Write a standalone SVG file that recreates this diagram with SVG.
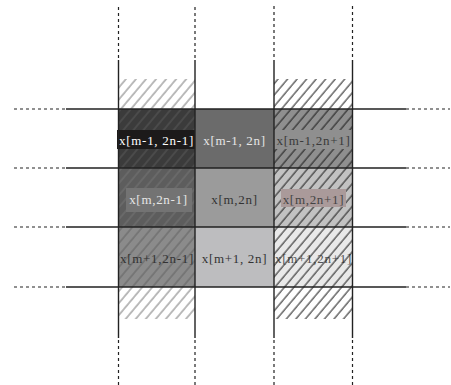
<svg xmlns="http://www.w3.org/2000/svg" width="451" height="385" viewBox="0 0 451 385">
<style>
.t{font-family:"Liberation Serif","Times New Roman",serif;font-size:13px;letter-spacing:0.7px;text-anchor:middle}
.sl{stroke:#222;stroke-width:1.4;fill:none}
.dl{stroke:#222;stroke-width:1.2;stroke-dasharray:3,3;fill:none}
</style>
<defs>
<pattern id="hA" width="7.7" height="10" patternUnits="userSpaceOnUse" patternTransform="rotate(40)"><line x1="1" y1="0" x2="1" y2="10" stroke="#666" stroke-width="0.9"/></pattern>
<pattern id="hB" width="7.7" height="10" patternUnits="userSpaceOnUse" patternTransform="rotate(40)"><line x1="1" y1="0" x2="1" y2="10" stroke="#5c5c5c" stroke-width="0.9"/></pattern>
<pattern id="hC" width="7.7" height="10" patternUnits="userSpaceOnUse" patternTransform="rotate(40)"><line x1="1" y1="0" x2="1" y2="10" stroke="#777" stroke-width="0.9"/></pattern>
<pattern id="hK" width="7.3" height="10" patternUnits="userSpaceOnUse" patternTransform="rotate(40)"><line x1="1" y1="0" x2="1" y2="10" stroke="#1a1a1a" stroke-width="1"/></pattern>
</defs>
<g id="bands">
<rect x="118.5" y="79" width="76.5" height="30" fill="#fff"/>
<rect x="118.5" y="79" width="76.5" height="30" fill="url(#hA)"/>
<rect x="274" y="79" width="79" height="30" fill="url(#hK)"/>
<rect x="118.5" y="287" width="76.5" height="32" fill="url(#hA)"/>
<rect x="274" y="287" width="79" height="32" fill="url(#hK)"/>
</g>
<g id="cell-m-1-2n-1">
<rect x="118.5" y="109" width="76.5" height="59" fill="#3b3b3b"/>
<rect x="118.5" y="109" width="76.5" height="59" fill="url(#hB)"/>
<rect x="117" y="130" width="78" height="19" fill="#1c1a1a"/>
<text class="t" x="156.5" y="144.5" fill="#fff">x[m-1, 2n-1]</text>
</g>
<g id="cell-m-1-2n">
<rect x="195" y="109" width="79" height="59" fill="#6b6b6b"/>
<text class="t" x="234.5" y="144.5" fill="#e6e6e6">x[m-1, 2n]</text>
</g>
<g id="cell-m-1-2n1">
<rect x="274" y="109" width="79" height="59" fill="#8f8f8f"/>
<rect x="274" y="109" width="79" height="59" fill="url(#hK)"/>
<rect x="274" y="130" width="78" height="19" fill="#8f8f8f"/>
<text class="t" x="313.5" y="144.5" fill="#3a3a3a">x[m-1,2n+1]</text>
</g>
<g id="cell-m-2n-1">
<rect x="118.5" y="168" width="76.5" height="59" fill="#5d5d5d"/>
<rect x="118.5" y="168" width="76.5" height="59" fill="url(#hC)"/>
<rect x="126" y="188" width="66" height="24" fill="#737373"/>
<text class="t" x="158.5" y="204" fill="#e6e6e6">x[m,2n-1]</text>
</g>
<g id="cell-m-2n">
<rect x="195" y="168" width="79" height="59" fill="#9b9b9b"/>
<text class="t" x="234.5" y="204" fill="#333">x[m,2n]</text>
</g>
<g id="cell-m-2n1">
<rect x="274" y="168" width="79" height="59" fill="#c2c2c2"/>
<rect x="274" y="168" width="79" height="59" fill="url(#hK)"/>
<rect x="281" y="189" width="65" height="18" fill="#aa9a9a"/>
<text class="t" x="313.5" y="204" fill="#444">x[m,2n+1]</text>
</g>
<g id="cell-m1-2n-1">
<rect x="118.5" y="227" width="76.5" height="60" fill="#8b8b8b"/>
<rect x="118.5" y="227" width="76.5" height="60" fill="url(#hB)"/>
<text class="t" x="157" y="263" fill="#333">x[m+1,2n-1]</text>
</g>
<g id="cell-m1-2n">
<rect x="195" y="227" width="79" height="60" fill="#bdbdbf"/>
<text class="t" x="234.5" y="263" fill="#333">x[m+1, 2n]</text>
</g>
<g id="cell-m1-2n1">
<rect x="274" y="227" width="79" height="60" fill="#e9e9e9"/>
<text class="t" x="313.5" y="263" fill="#555">x[m+1,2n+1]</text>
<rect x="274" y="227" width="79" height="60" fill="url(#hK)"/>
</g>
<g id="connectors">
<path class="dl" d="M118.5 7V60M195 7V60M274 6V60M352.5 6V60"/>
<path class="sl" d="M118.5 60V338M195 60V338M274 60V338M352.5 60V338"/>
<path class="dl" d="M118.5 340V385M195 340V385M274 340V385M352.5 340V385"/>
<path class="dl" d="M14 109H66M14 168H66M14 227H66M14 287H66"/>
<path class="sl" d="M66 109H406M66 168H406M66 227H406M66 287H406"/>
<path class="dl" d="M406 109H450M406 168H450M406 227H450M406 287H450"/>
</g>
</svg>
